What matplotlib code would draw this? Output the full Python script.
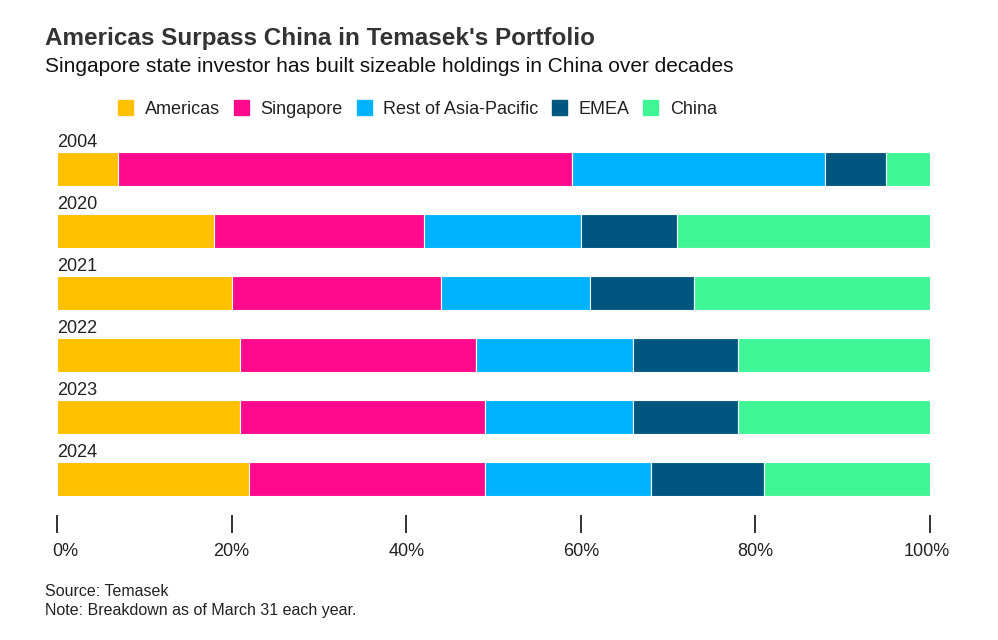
import matplotlib.pyplot as plt
import numpy as np
from matplotlib.patches import Rectangle
from matplotlib.transforms import ScaledTranslation

plt.rcParams['font.family'] = ['Liberation Sans', 'DejaVu Sans']

years = ["2004", "2020", "2021", "2022", "2023", "2024"]
regions = ["Americas", "Singapore", "Rest of Asia-Pacific", "EMEA", "China"]
americas = [7, 18, 20, 21, 21, 22]
singapore = [52, 24, 24, 27, 28, 27]
rest_apac = [29, 18, 17, 18, 17, 19]
emea = [7, 11, 12, 12, 12, 13]
china = [5, 29, 27, 22, 22, 19]
colors = ["#FFC000", "#FF0A8C", "#00B2FF", "#00567E", "#40F596"]

series = [americas, singapore, rest_apac, emea, china]

W, H = 998, 640
fig = plt.figure(figsize=(W / 100, H / 100), dpi=100)
ax = fig.add_axes([57 / W, 1 - 533 / H, (930 - 57) / W, (533 - 130) / H])

y = np.arange(len(years))
left = np.zeros(len(years))
for vals, name, c in zip(series, regions, colors):
    ax.barh(y, vals, left=left, height=0.55, color=c, edgecolor="white", linewidth=0.8, label=name)
    left += np.array(vals)

for i, yr in enumerate(years):
    ax.annotate(yr, (0, i - 0.275), xytext=(0, 0.5), textcoords="offset points",
                ha="left", va="bottom", fontsize=13, color="#222222")

ax.set_xlim(0, 100)
ax.set_ylim((533 - 169) / 62, -(169 - 130) / 62)
for s in ax.spines.values():
    s.set_visible(False)
ax.set_yticks([])
ax.set_xticks([0, 20, 40, 60, 80, 100])
ax.set_xticklabels(["0%", "20%", "40%", "60%", "80%", "100%"])
ax.tick_params(axis="x", direction="in", length=13, width=1.3, color="#222222",
               labelsize=13, labelcolor="#222222", pad=7)
labels = ax.get_xticklabels()
labels[0].set_transform(labels[0].get_transform() + ScaledTranslation(8 / 100, 0, fig.dpi_scale_trans))
labels[-1].set_transform(labels[-1].get_transform() + ScaledTranslation(-3 / 100, 0, fig.dpi_scale_trans))

fig.text(45 / W, 1 - 38 / H, "Americas Surpass China in Temasek's Portfolio",
         fontsize=17.5, fontweight="bold", color="#333333", va="center")
fig.text(45 / W, 1 - 66 / H, "Singapore state investor has built sizeable holdings in China over decades",
         fontsize=15, color="#111111", va="center")

sq_x = [118, 234, 357, 552, 643]
txt_x = [145, 260, 383, 579, 670]
for sx, tx, name, c in zip(sq_x, txt_x, regions, colors):
    fig.patches.append(Rectangle((sx / W, 1 - 115 / H), 15 / W, 15 / H,
                                 transform=fig.transFigure, color=c))
    fig.text(tx / W, 1 - 109.5 / H, name, fontsize=13, color="#222222", va="center")

fig.text(45 / W, 1 - 592 / H, "Source: Temasek", fontsize=11.5, color="#222222", va="center")
fig.text(45 / W, 1 - 610 / H, "Note: Breakdown as of March 31 each year.", fontsize=11.5,
         color="#222222", va="center")

fig.savefig("out.png", dpi=100, facecolor="white")
